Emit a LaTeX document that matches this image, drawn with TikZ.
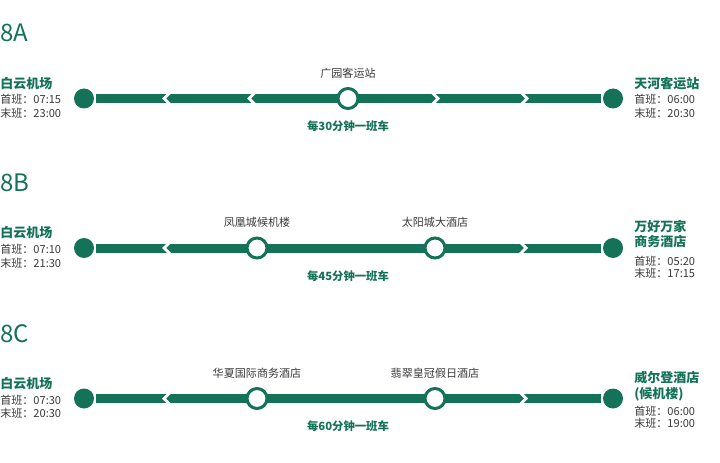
\documentclass[tikz,border=0pt]{standalone}
\usepackage{fontspec}
\setmainfont{Noto Sans CJK SC}
\definecolor{lgreen}{HTML}{137257}
\definecolor{lgray}{HTML}{3A3A3A}
\begin{document}
\begin{tikzpicture}[x=0.75pt,y=-0.75pt,
  term/.style={circle,fill=lgreen,inner sep=0pt,minimum size=15pt},
  stop/.style={circle,draw=lgreen,fill=white,line width=2.25pt,inner sep=0pt,minimum size=15pt},
  bar/.style={draw=lgreen,line width=6.75pt,shorten <=1.5pt,shorten >=1.5pt},
  hdr/.style={text=lgreen,font=\fontsize{18pt}{20pt}\selectfont,anchor=base west,inner sep=0pt},
  ttl/.style={text=lgreen,font=\fontsize{9.75pt}{11pt}\selectfont\bfseries,anchor=base west,inner sep=0pt},
  tim/.style={text=lgray,font=\fontsize{8.3pt}{10pt}\selectfont,anchor=base west,inner sep=0pt},
  stl/.style={text=lgray,font=\fontsize{8.3pt}{10pt}\selectfont,anchor=base,inner sep=0pt},
  frq/.style={text=lgreen,font=\fontsize{8.5pt}{10pt}\selectfont\bfseries,anchor=base,inner sep=0pt},
  chevl/.pic={\fill[white] (0,0) -- (6,-6) -- (10,-6) -- (4,0) -- (10,6) -- (6,6) -- cycle;},
  chevr/.pic={\fill[white] (0,0) -- (-6,-6) -- (-10,-6) -- (-4,0) -- (-10,6) -- (-6,6) -- cycle;}
]
\useasboundingbox[fill=white] (0,0) rectangle (720,463);

% ---------------- 8A ----------------
\node[hdr] (hA) at (0,42) {8A};
\node[term] (A0) at (84,98.5) {};
\node[term] (A9) at (613,98.5) {};
\draw[bar] (A0) -- (A9);
\pic at (162,98.5) {chevl};
\pic at (247,98.5) {chevl};
\pic at (440,98.5) {chevr};
\pic at (529,98.5) {chevr};
\node[stop] (A1) at (348,98.5) {};
\node[stl] (A1t) at (348,78) {广园客运站};
\node[frq] (Af) at (348,131) {每30分钟一班车};
\node[ttl] (A0t) at (0,88.5) {白云机场};
\node[tim] (A0a) at (0,104) {首班：07:15};
\node[tim] (A0b) at (0,117.5) {末班：23:00};
\node[ttl] (A9t) at (634,89) {天河客运站};
\node[tim] (A9a) at (634,104) {首班：06:00};
\node[tim] (A9b) at (634,117.5) {末班：20:30};

% ---------------- 8B ----------------
\node[hdr] (hB) at (0,192) {8B};
\node[term] (B0) at (84,248) {};
\node[term] (B9) at (613,248) {};
\draw[bar] (B0) -- (B9);
\pic at (162,248) {chevl};
\pic at (528,248) {chevr};
\node[stop] (B1) at (257,248) {};
\node[stop] (B2) at (435,248) {};
\node[stl] (B1t) at (257,227) {凤凰城候机楼};
\node[stl] (B2t) at (435,227) {太阳城大酒店};
\node[frq] (Bf) at (348,280) {每45分钟一班车};
\node[ttl] (B0t) at (0,238) {白云机场};
\node[tim] (B0a) at (0,253.5) {首班：07:10};
\node[tim] (B0b) at (0,267) {末班：21:30};
\node[ttl] (B9t) at (634,232) {万好万家};
\node[ttl] (B9u) at (634,247) {商务酒店};
\node[tim] (B9a) at (634,265) {首班：05:20};
\node[tim] (B9b) at (634,277.5) {末班：17:15};

% ---------------- 8C ----------------
\node[hdr] (hC) at (0,342) {8C};
\node[term] (C0) at (84,398.5) {};
\node[term] (C9) at (613,398.5) {};
\draw[bar] (C0) -- (C9);
\pic at (162,398.5) {chevl};
\pic at (528,398.5) {chevr};
\node[stop] (C1) at (257,398.5) {};
\node[stop] (C2) at (435,398.5) {};
\node[stl] (C1t) at (257,377) {华夏国际商务酒店};
\node[stl] (C2t) at (435,377) {翡翠皇冠假日酒店};
\node[frq] (Cf) at (348,430) {每60分钟一班车};
\node[ttl] (C0t) at (0,388.5) {白云机场};
\node[tim] (C0a) at (0,404) {首班：07:30};
\node[tim] (C0b) at (0,417.5) {末班：20:30};
\node[ttl] (C9t) at (634,382) {威尔登酒店};
\node[ttl] (C9u) at (634,398) {(候机楼)};
\node[tim] (C9a) at (634,415) {首班：06:00};
\node[tim] (C9b) at (634,427.5) {末班：19:00};
\end{tikzpicture}
\end{document}
